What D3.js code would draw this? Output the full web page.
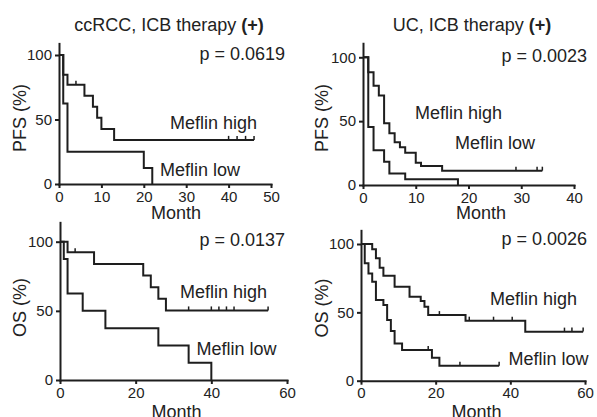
<!DOCTYPE html>
<html>
<head>
<meta charset="utf-8">
<script src="https://cdn.jsdelivr.net/npm/d3@7"></script>
<style>
body { margin: 0; background: #fff; }
text { font-family: "Liberation Sans", Arial, sans-serif; fill: #222; }
</style>
</head>
<body>
<svg id="chart" width="597" height="417"></svg>
<script>
// values: step times (month) and survival (%)

// ccRCC, PFS
const rccPfsHighT = [0, 1, 2, 6, 8, 9, 10, 13, 46];
const rccPfsHighS = [100, 84.6, 76.9, 68.4, 59.8, 51.3, 42.7, 34.2, 34.2];
const rccPfsHighCensor = [4, 40, 42, 44, 46];
const rccPfsLowT = [0, 1, 2, 20, 22];
const rccPfsLowS = [100, 62.5, 25, 12.5, 0];
const rccPfsLowCensor = [];

// UC, PFS
const ucPfsHighT = [0, 1, 2, 3, 4, 5, 6, 7, 8, 10, 11, 15, 34];
const ucPfsHighS = [100, 88.3, 77.8, 70, 48.3, 40.5, 33.4, 29.5, 25.3, 17.5, 14.9, 11.2, 11.2];
const ucPfsHighCensor = [29, 33, 34];
const ucPfsLowT = [0, 1, 2, 4, 5, 8, 18];
const ucPfsLowS = [100, 45.5, 27.3, 18.2, 9.1, 4.5, 0];
const ucPfsLowCensor = [];

// ccRCC, OS
const rccOsHighT = [0, 2, 9, 22, 24, 26, 28, 55];
const rccOsHighS = [100, 92.3, 83.9, 75.5, 67.1, 58.7, 50.3, 50.3];
const rccOsHighCensor = [4, 34, 40, 42, 44, 46, 55];
const rccOsLowT = [0, 1, 2, 6, 12, 26, 34, 40];
const rccOsLowS = [100, 87.5, 62.5, 50, 37.5, 25, 12.5, 0];
const rccOsLowCensor = [];

// UC, OS
const ucOsHighT = [0, 3, 4, 5, 6, 9, 13, 16, 17, 18, 28, 44, 59.5];
const ucOsHighS = [100, 96.1, 89.5, 82.7, 76.8, 68.8, 61.5, 58.3, 54.1, 48, 43.9, 35.9, 35.9];
const ucOsHighCensor = [21, 29, 35.5, 40.5, 54.5, 56.5, 59.5];
const ucOsLowT = [0, 1, 2, 3, 4, 6, 7, 8, 9, 11, 19, 21, 37];
const ucOsLowS = [100, 85.9, 78.5, 72.4, 59, 55.4, 44.4, 36.3, 27.3, 22.4, 16.8, 11, 11];
const ucOsLowCensor = [18, 26.5, 37];

const yTicks = [0, 50, 100];
const xTicksRccPfs = [0, 10, 20, 30, 40, 50];
const xTicksUcPfs = [0, 10, 20, 30, 40];
const xTicksOs = [0, 20, 40, 60];

const svg = d3.select('#chart');
const ink = '#1e1e1e';

function toPoints(t, s) { return t.map(function(d, i) { return [d, s[i]]; }); }

function survAt(t, s, time) {
    var v = s[0];
    for (var i = 0; i < t.length; i++) { if (t[i] <= time) v = s[i]; }
    return v;
}

function drawPanel(p) {
    var x = d3.scaleLinear().domain([0, p.xMax]).range([p.left, p.right]);
    var y0 = d3.scaleLinear().domain([0, 100]).range([p.bottom, p.y100]);
    var y = d3.scaleLinear().domain([0, p.yTop]).range([p.bottom, y0(p.yTop)]);

    var g = svg.append('g');

    var xa = g.append('g')
        .attr('transform', 'translate(0,' + p.bottom + ')')
        .call(d3.axisBottom(x).tickValues(p.xTicks).tickSize(4).tickSizeOuter(0).tickPadding(3));
    var ya = g.append('g')
        .attr('transform', 'translate(' + p.left + ',0)')
        .call(d3.axisLeft(y).tickValues(yTicks).tickSize(4).tickSizeOuter(0).tickPadding(3));
    [xa, ya].forEach(function(a) {
        a.select('.domain').attr('stroke', ink).attr('stroke-width', 2).attr('stroke-linecap', 'square');
        a.selectAll('.tick line').attr('stroke', ink).attr('stroke-width', 2);
        a.selectAll('.tick text').attr('font-size', 15).attr('fill', '#222')
            .attr('font-family', '"Liberation Sans", Arial, sans-serif');
    });

    var line = d3.line()
        .x(function(d) { return x(d[0]); })
        .y(function(d) { return y(d[1]); })
        .curve(d3.curveStepAfter);

    p.curves.forEach(function(c) {
        g.append('path')
            .datum(toPoints(c.t, c.s))
            .attr('d', line)
            .attr('fill', 'none')
            .attr('stroke', ink)
            .attr('stroke-width', 2);
        g.selectAll(null).data(c.censor).enter().append('line')
            .attr('x1', function(d) { return x(d); })
            .attr('x2', function(d) { return x(d); })
            .attr('y1', function(d) { return y(survAt(c.t, c.s, d)); })
            .attr('y2', function(d) { return y(survAt(c.t, c.s, d)) - 4; })
            .attr('stroke', ink)
            .attr('stroke-width', 1.5);
    });

    // titles and labels
    if (p.title) {
        var tt = g.append('text').attr('x', p.title.x).attr('y', p.title.y)
            .attr('text-anchor', 'middle').attr('font-size', 18);
        tt.append('tspan').text(p.title.text + ' ');
        tt.append('tspan').attr('font-weight', 'bold').text('(+)');
    }
    g.append('text').attr('x', p.pval.x).attr('y', p.pval.y)
        .attr('text-anchor', 'end').attr('font-size', 18).text(p.pval.text);
    g.append('text').attr('x', p.hiLab[0]).attr('y', p.hiLab[1])
        .attr('font-size', 18).text('Meflin high');
    g.append('text').attr('x', p.loLab[0]).attr('y', p.loLab[1])
        .attr('font-size', 18).text('Meflin low');
    g.append('text')
        .attr('transform', 'translate(' + p.yLab[0] + ',' + p.yLab[1] + ') rotate(-90)')
        .attr('text-anchor', 'middle').attr('dy', '0.35em')
        .attr('font-size', 18).text(p.yLab[2]);
    g.append('text').attr('x', p.xLab[0]).attr('y', p.xLab[1])
        .attr('text-anchor', 'middle').attr('font-size', 18).text('Month');
}

drawPanel({
    left: 59, right: 271, bottom: 184, y100: 55, yTop: 109, xMax: 50, xTicks: xTicksRccPfs,
    curves: [
        { t: rccPfsHighT, s: rccPfsHighS, censor: rccPfsHighCensor },
        { t: rccPfsLowT, s: rccPfsLowS, censor: rccPfsLowCensor }
    ],
    title: { text: 'ccRCC, ICB therapy', x: 169, y: 31 },
    pval: { text: 'p = 0.0619', x: 285, y: 60 },
    hiLab: [170, 129], loLab: [160, 176],
    yLab: [20, 118, 'PFS (%)'], xLab: [176, 219]
});

drawPanel({
    left: 363, right: 574, bottom: 185, y100: 57.3, yTop: 111, xMax: 40, xTicks: xTicksUcPfs,
    curves: [
        { t: ucPfsHighT, s: ucPfsHighS, censor: ucPfsHighCensor },
        { t: ucPfsLowT, s: ucPfsLowS, censor: ucPfsLowCensor }
    ],
    title: { text: 'UC, ICB therapy', x: 472, y: 31 },
    pval: { text: 'p = 0.0023', x: 587, y: 61.5 },
    hiLab: [415, 118.5], loLab: [455, 148.5],
    yLab: [321.5, 118, 'PFS (%)'], xLab: [481, 219]
});

drawPanel({
    left: 60, right: 287, bottom: 380, y100: 241.7, yTop: 114, xMax: 60, xTicks: xTicksOs,
    curves: [
        { t: rccOsHighT, s: rccOsHighS, censor: rccOsHighCensor },
        { t: rccOsLowT, s: rccOsLowS, censor: rccOsLowCensor }
    ],
    title: null,
    pval: { text: 'p = 0.0137', x: 285, y: 245.5 },
    hiLab: [180, 297.5], loLab: [196.5, 355],
    yLab: [20, 307.5, 'OS (%)'], xLab: [176.5, 418]
});

drawPanel({
    left: 361, right: 585, bottom: 380.7, y100: 244, yTop: 110, xMax: 60, xTicks: xTicksOs,
    curves: [
        { t: ucOsHighT, s: ucOsHighS, censor: ucOsHighCensor },
        { t: ucOsLowT, s: ucOsLowS, censor: ucOsLowCensor }
    ],
    title: null,
    pval: { text: 'p = 0.0026', x: 587, y: 245 },
    hiLab: [490, 305], loLab: [508.5, 365],
    yLab: [321.5, 308, 'OS (%)'], xLab: [476.5, 418]
});
</script>
</body>
</html>
